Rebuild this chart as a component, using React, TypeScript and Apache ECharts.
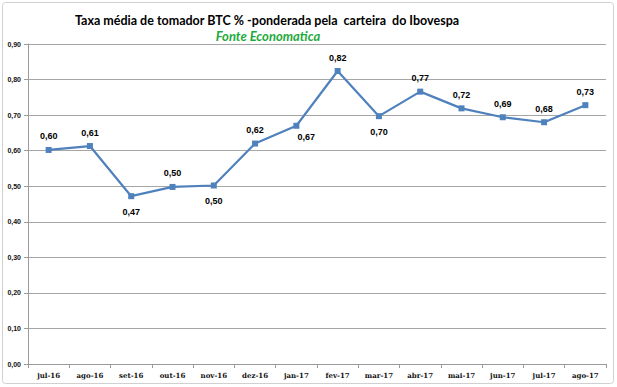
import React, { useEffect, useRef } from "react";
import * as echarts from "echarts";

const categories = ["jul-16","ago-16","set-16","out-16","nov-16","dez-16","jan-17","fev-17","mar-17","abr-17","mai-17","jun-17","jul-17","ago-17"];
const values = [0.602, 0.613, 0.472, 0.498, 0.502, 0.620, 0.670, 0.824, 0.697, 0.766, 0.719, 0.694, 0.680, 0.728];
const labelPlacement = ["top","top","bottom","top","bottom","top","bottomRight","top","bottom","top","top","top","top","top"];
const yTicks = [0, 0.1, 0.2, 0.3, 0.4, 0.5, 0.6, 0.7, 0.8, 0.9];

const fmt = (v: number) => v.toFixed(2).replace(".", ",");

export default function App() {
  const ref = useRef<HTMLDivElement>(null);
  useEffect(() => {
    if (!ref.current) return;
    const chart = echarts.init(ref.current, null, { renderer: "svg" });
    const data = values.map((v, i) => {
      const p = labelPlacement[i];
      let label: any = { position: "top", distance: 6 };
      if (p === "bottom") label = { position: "bottom", distance: 8 };
      if (p === "bottomRight") label = { position: "bottom", distance: 4, offset: [10, 0] };
      return { value: v, label };
    });
    chart.setOption({
      animation: false,
      backgroundColor: "#ffffff",
      title: [
        {
          text: "Taxa média de tomador BTC % -ponderada pela  carteira  do Ibovespa",
          left: 262,
          top: 9,
          textAlign: "center",
          textStyle: { fontFamily: "Lato", fontWeight: "bold", fontSize: 12.5, color: "#000" },
        },
        {
          text: "Fonte Economatica",
          left: 263,
          top: 24,
          textAlign: "center",
          textStyle: { fontFamily: "Lato", fontWeight: "bold", fontStyle: "italic", fontSize: 13, color: "#1faa3c" },
        },
      ],
      graphic: [
        {
          type: "rect",
          shape: { x: 2.5, y: 2.5, width: 611, height: 381, r: 3 },
          style: { fill: "none", stroke: "#d0d0d0", lineWidth: 1 },
          silent: true,
        },
      ],
      grid: { left: 28, right: 11, top: 44, bottom: 23, containLabel: false },
      xAxis: {
        type: "category",
        data: categories,
        boundaryGap: true,
        axisLine: { lineStyle: { color: "#9a9a9a" } },
        axisTick: { show: true, inside: false, length: 4, lineStyle: { color: "#9a9a9a" } },
        axisLabel: { fontFamily: "DejaVu Serif", fontWeight: "bold", fontSize: 7, color: "#111", margin: 8, interval: 0 },
      },
      yAxis: {
        type: "value",
        min: 0,
        max: 0.9,
        interval: 0.1,
        axisLine: { show: true, lineStyle: { color: "#9a9a9a" } },
        axisTick: { show: true, length: 4, lineStyle: { color: "#9a9a9a" } },
        splitLine: { lineStyle: { color: "#a6a6a6", width: 1 } },
        axisLabel: {
          fontFamily: "Liberation Sans",
          fontWeight: "bold",
          fontSize: 7,
          color: "#111",
          margin: 7,
          formatter: (v: number) => {
            const t = yTicks.find((y) => Math.abs(y - v) < 1e-6);
            return fmt(t ?? v);
          },
        },
      },
      series: [
        {
          type: "line",
          data,
          symbol: "rect",
          symbolSize: 6,
          lineStyle: { color: "#4f81bd", width: 2.2 },
          itemStyle: { color: "#4f81bd" },
          label: {
            show: true,
            fontFamily: "Liberation Sans",
            fontWeight: "bold",
            fontSize: 9,
            color: "#000",
            formatter: (p: any) => fmt(p.value),
          },
        },
      ],
    });
    return () => chart.dispose();
  }, []);
  return (
    <div
      ref={ref}
      style={{ position: "fixed", left: 0, top: 0, width: 617, height: 387 }}
    />
  );
}
